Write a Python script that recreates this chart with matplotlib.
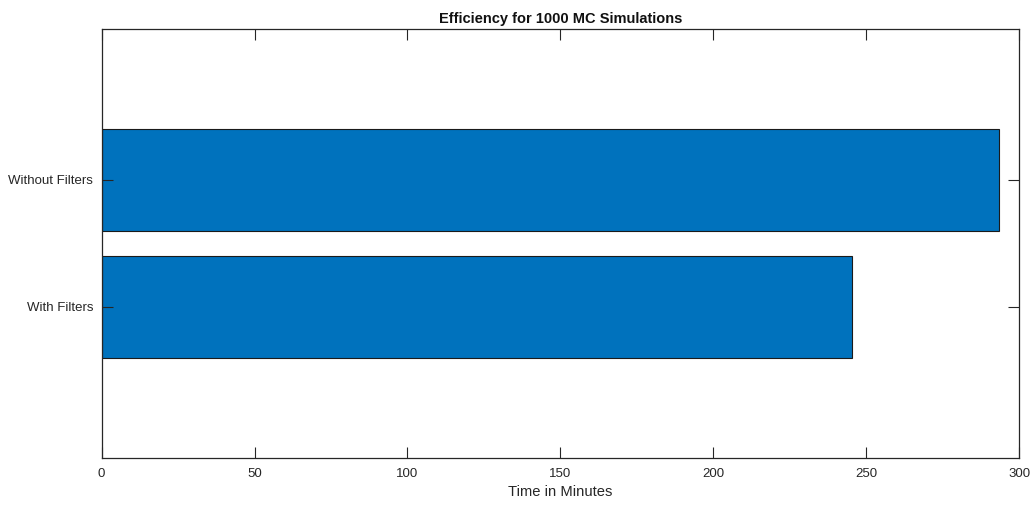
import matplotlib
matplotlib.use("Agg")
import matplotlib.pyplot as plt

plt.rcParams['font.family'] = ['Liberation Sans', 'DejaVu Sans']

categories = ["With Filters", "Without Filters"]
minutes = [245.2, 293.2]
x_ticks = [0, 50, 100, 150, 200, 250, 300]

bar_color = "#0072BD"
ink = "#262626"

fig = plt.figure(figsize=(10.32, 5.05), dpi=100)
ax = fig.add_axes([0.0984, 0.0931, 0.8893, 0.8501])

positions = list(range(1, len(categories) + 1))
ax.barh(positions, minutes, height=0.8, color=bar_color,
        edgecolor="#1a1a1a", linewidth=0.8)

ax.set_xlim(0, 300)
ax.set_ylim(-0.19, 3.19)
ax.set_xticks(x_ticks)
ax.set_yticks(positions)
ax.set_yticklabels(categories)

for side in ax.spines.values():
    side.set_color(ink)
    side.set_linewidth(0.9)

ax.tick_params(axis="both", direction="in", length=8, width=0.8,
               colors=ink, labelsize=9.5, top=True, right=True)
ax.tick_params(axis="y", pad=6)
ax.tick_params(axis="x", pad=7)

ax.set_xlabel("Time in Minutes", fontsize=10.6, color=ink, labelpad=4)
ax.set_title("Efficiency for 1000 MC Simulations", fontsize=10.5,
             fontweight="bold", color="#111111", pad=4)

fig.savefig("out.png", dpi=100, facecolor="white")
